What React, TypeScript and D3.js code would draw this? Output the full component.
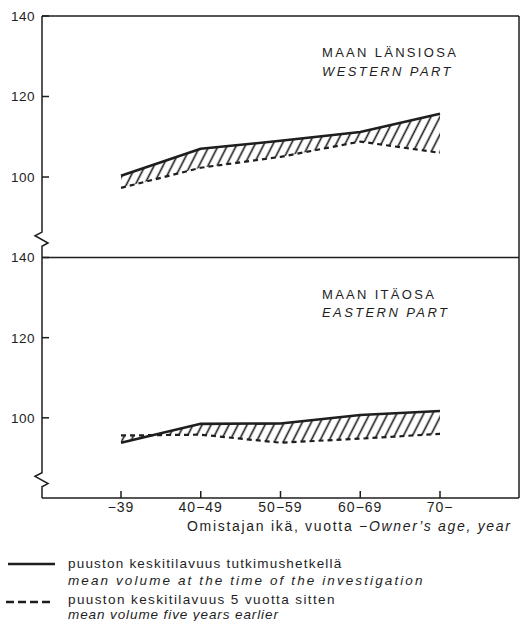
import React from "react";
import * as d3 from "d3";

// age classes of the forest owner
const categories = ["−39", "40−49", "50−59", "60−69", "70−"];

// mean growing stock volume, index
const westNow = [100.3, 107, 109, 111.2, 115.7];
const westBefore = [97.3, 102.3, 105, 108.8, 106];
const eastNow = [93.8, 98.5, 98.6, 100.7, 101.7];
const eastBefore = [95.6, 95.8, 93.8, 94.8, 96];

const yTicks = [100, 120, 140];
const yDomain = [80, 140];

const titlesFi = ["MAAN LÄNSIOSA", "MAAN ITÄOSA"];
const titlesEn = ["WESTERN PART", "EASTERN PART"];

const W = 521;
const H = 621;
const left = 42;
const right = 519;
const ink = "#1e1e1e";
const font = "'Liberation Sans', Arial, Helvetica, sans-serif";

const panels = [
  { top: 16, bottom: 257.5, now: westNow, before: westBefore, fi: titlesFi[0], en: titlesEn[0] },
  { top: 257.5, bottom: 498, now: eastNow, before: eastBefore, fi: titlesFi[1], en: titlesEn[1] },
];

const x = d3.scalePoint<string>().domain(categories).range([121, 440]);

const App: React.FC = () => {
  const scales = panels.map((p) => d3.scaleLinear().domain(yDomain).range([p.bottom, p.top]));

  // left axis with a zigzag break in each panel
  const axisPath = (() => {
    let d = "";
    panels.forEach((p, i) => {
      const y = scales[i];
      d += `M${left},${p.top}L${left},${y(86.3)}L${left - 7},${y(85.4)}L${left + 6},${y(83.6)}L${left},${y(82.8)}L${left},${p.bottom}`;
    });
    return d;
  })();

  return (
    <svg width={W} height={H} style={{ position: "absolute", left: 0, top: 0 }} fontFamily={font}>
      <defs>
        <pattern id="hatch" width={9} height={9} patternUnits="userSpaceOnUse" patternTransform="skewX(-27)">
          <line x1={4.5} y1={-1} x2={4.5} y2={10} stroke={ink} strokeWidth={1.8} />
        </pattern>
      </defs>
      <rect width={W} height={H} fill="#fff" />

      {panels.map((p, i) => {
        const y = scales[i];
        const area = d3
          .area<number>()
          .x((_, j) => x(categories[j])!)
          .y0((_, j) => y(p.before[j]))
          .y1((d) => y(d));
        const line = d3
          .line<number>()
          .x((_, j) => x(categories[j])!)
          .y((d) => y(d));
        return (
          <g key={i}>
            <path d={area(p.now)!} fill="url(#hatch)" />
            <path d={line(p.before)!} fill="none" stroke={ink} strokeWidth={2.2} strokeDasharray="5 4" />
            <path d={line(p.now)!} fill="none" stroke={ink} strokeWidth={2.6} strokeLinejoin="round" />
            {yTicks.map((t) => (
              <g key={t}>
                <line x1={left} x2={left + 7} y1={y(t)} y2={y(t)} stroke={ink} strokeWidth={1.5} />
                <text x={35} y={y(t)} dy="0.36em" textAnchor="end" fontSize={13.5} letterSpacing={0.5} fill={ink}>
                  {t}
                </text>
              </g>
            ))}
            <text x={322} y={p.top + 41} fontSize={13} letterSpacing={2.3} fill={ink}>
              {p.fi}
            </text>
            <text x={322} y={p.top + 59.5} fontSize={13} letterSpacing={2.4} fontStyle="italic" fill={ink}>
              {p.en}
            </text>
          </g>
        );
      })}

      {/* frame */}
      <path d={axisPath} fill="none" stroke={ink} strokeWidth={1.5} />
      <line x1={left} x2={right} y1={16} y2={16} stroke={ink} strokeWidth={1.5} />
      <line x1={left} x2={right} y1={257.5} y2={257.5} stroke={ink} strokeWidth={1.5} />
      <line x1={left} x2={right} y1={498} y2={498} stroke={ink} strokeWidth={1.5} />
      <line x1={right} x2={right} y1={16} y2={498} stroke={ink} strokeWidth={1.5} />

      {/* x axis */}
      {categories.map((c) => (
        <g key={c}>
          <line x1={x(c)} x2={x(c)} y1={498} y2={491} stroke={ink} strokeWidth={1.5} />
          <text x={x(c)} y={512} textAnchor="middle" fontSize={14} letterSpacing={1} fill={ink}>
            {c}
          </text>
        </g>
      ))}
      <text x={187} y={531} fontSize={14} letterSpacing={1.7} fill={ink}>
        Omistajan ikä, vuotta −<tspan fontStyle="italic">Owner’s age, year</tspan>
      </text>

      {/* legend */}
      <line x1={8} x2={55} y1={564} y2={564} stroke={ink} strokeWidth={2.6} />
      <text x={68} y={568} fontSize={13.5} letterSpacing={1.2} fill={ink}>
        puuston keskitilavuus tutkimushetkellä
      </text>
      <text x={68} y={585} fontSize={13.5} letterSpacing={2.1} fontStyle="italic" fill={ink}>
        mean volume at the time of the investigation
      </text>
      <line x1={6} x2={50} y1={602} y2={602} stroke={ink} strokeWidth={2.4} strokeDasharray="8 4" />
      <text x={68} y={604} fontSize={13.5} letterSpacing={1.4} fill={ink}>
        puuston keskitilavuus 5 vuotta sitten
      </text>
      <text x={68} y={619} fontSize={13.5} letterSpacing={0.9} fontStyle="italic" fill={ink}>
        mean volume five  years earlier
      </text>
    </svg>
  );
};

export default App;
